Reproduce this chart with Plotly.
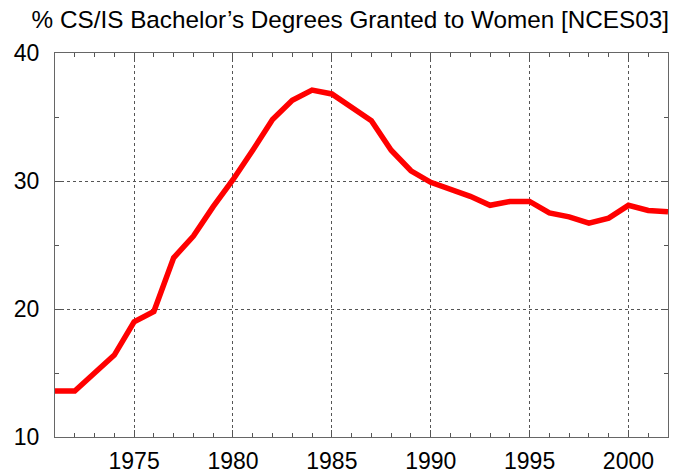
import plotly.graph_objects as go

years = list(range(1971, 2003))
pct_women = [13.6, 13.6, 15.0, 16.4, 19.0, 19.8, 24.0, 25.7, 28.0, 30.1,
             32.4, 34.8, 36.3, 37.1, 36.8, 35.8, 34.7, 32.4, 30.8, 29.9,
             29.4, 28.8, 28.1, 28.4, 28.4, 27.5, 27.2, 26.7, 27.1, 28.1,
             27.7, 27.6]
x_ticks = [1975, 1980, 1985, 1990, 1995, 2000]
y_ticks = [10, 20, 30, 40]
title_text = "% CS/IS Bachelor\u2019s Degrees Granted to Women [NCES03]"

fig = go.Figure()
fig.add_trace(go.Scatter(x=years, y=pct_women, mode="lines",
                         line=dict(color="#ff0000", width=5.5),
                         showlegend=False, hoverinfo="x+y"))

axis_common = dict(
    showline=True, linecolor="#666666", linewidth=1, mirror="ticks",
    ticks="inside", tickcolor="#555555", ticklen=7, tickwidth=1,
    showgrid=True, gridcolor="#555555", griddash="dot", gridwidth=1,
    zeroline=False, automargin=False,
    tickfont=dict(family="Liberation Sans, Arial, sans-serif", size=23, color="#000000"),
)

fig.update_xaxes(range=[1971, 2002], tickvals=x_ticks, ticklabelstandoff=3,
                 minor=dict(dtick=1, tick0=1971, ticks="inside", ticklen=4,
                            tickcolor="#555555", showgrid=False),
                 **axis_common)
fig.update_yaxes(range=[10, 40], tickvals=y_ticks, ticklabelstandoff=10,
                 minor=dict(dtick=5, tick0=10, ticks="inside", ticklen=4,
                            tickcolor="#555555", showgrid=False),
                 **axis_common)

fig.update_layout(
    width=677, height=473,
    margin=dict(l=55, r=9, t=53, b=36),
    paper_bgcolor="white", plot_bgcolor="white",
    title=dict(text=title_text, x=669 / 677, xanchor="right", xref="container",
               y=1 - 19 / 473, yanchor="middle", yref="container",
               font=dict(family="Liberation Sans, Arial, sans-serif", size=24.3, color="#000000")),
)

fig.write_html("out.html", config={"displayModeBar": False},
               post_script="document.body.style.margin='0';")
